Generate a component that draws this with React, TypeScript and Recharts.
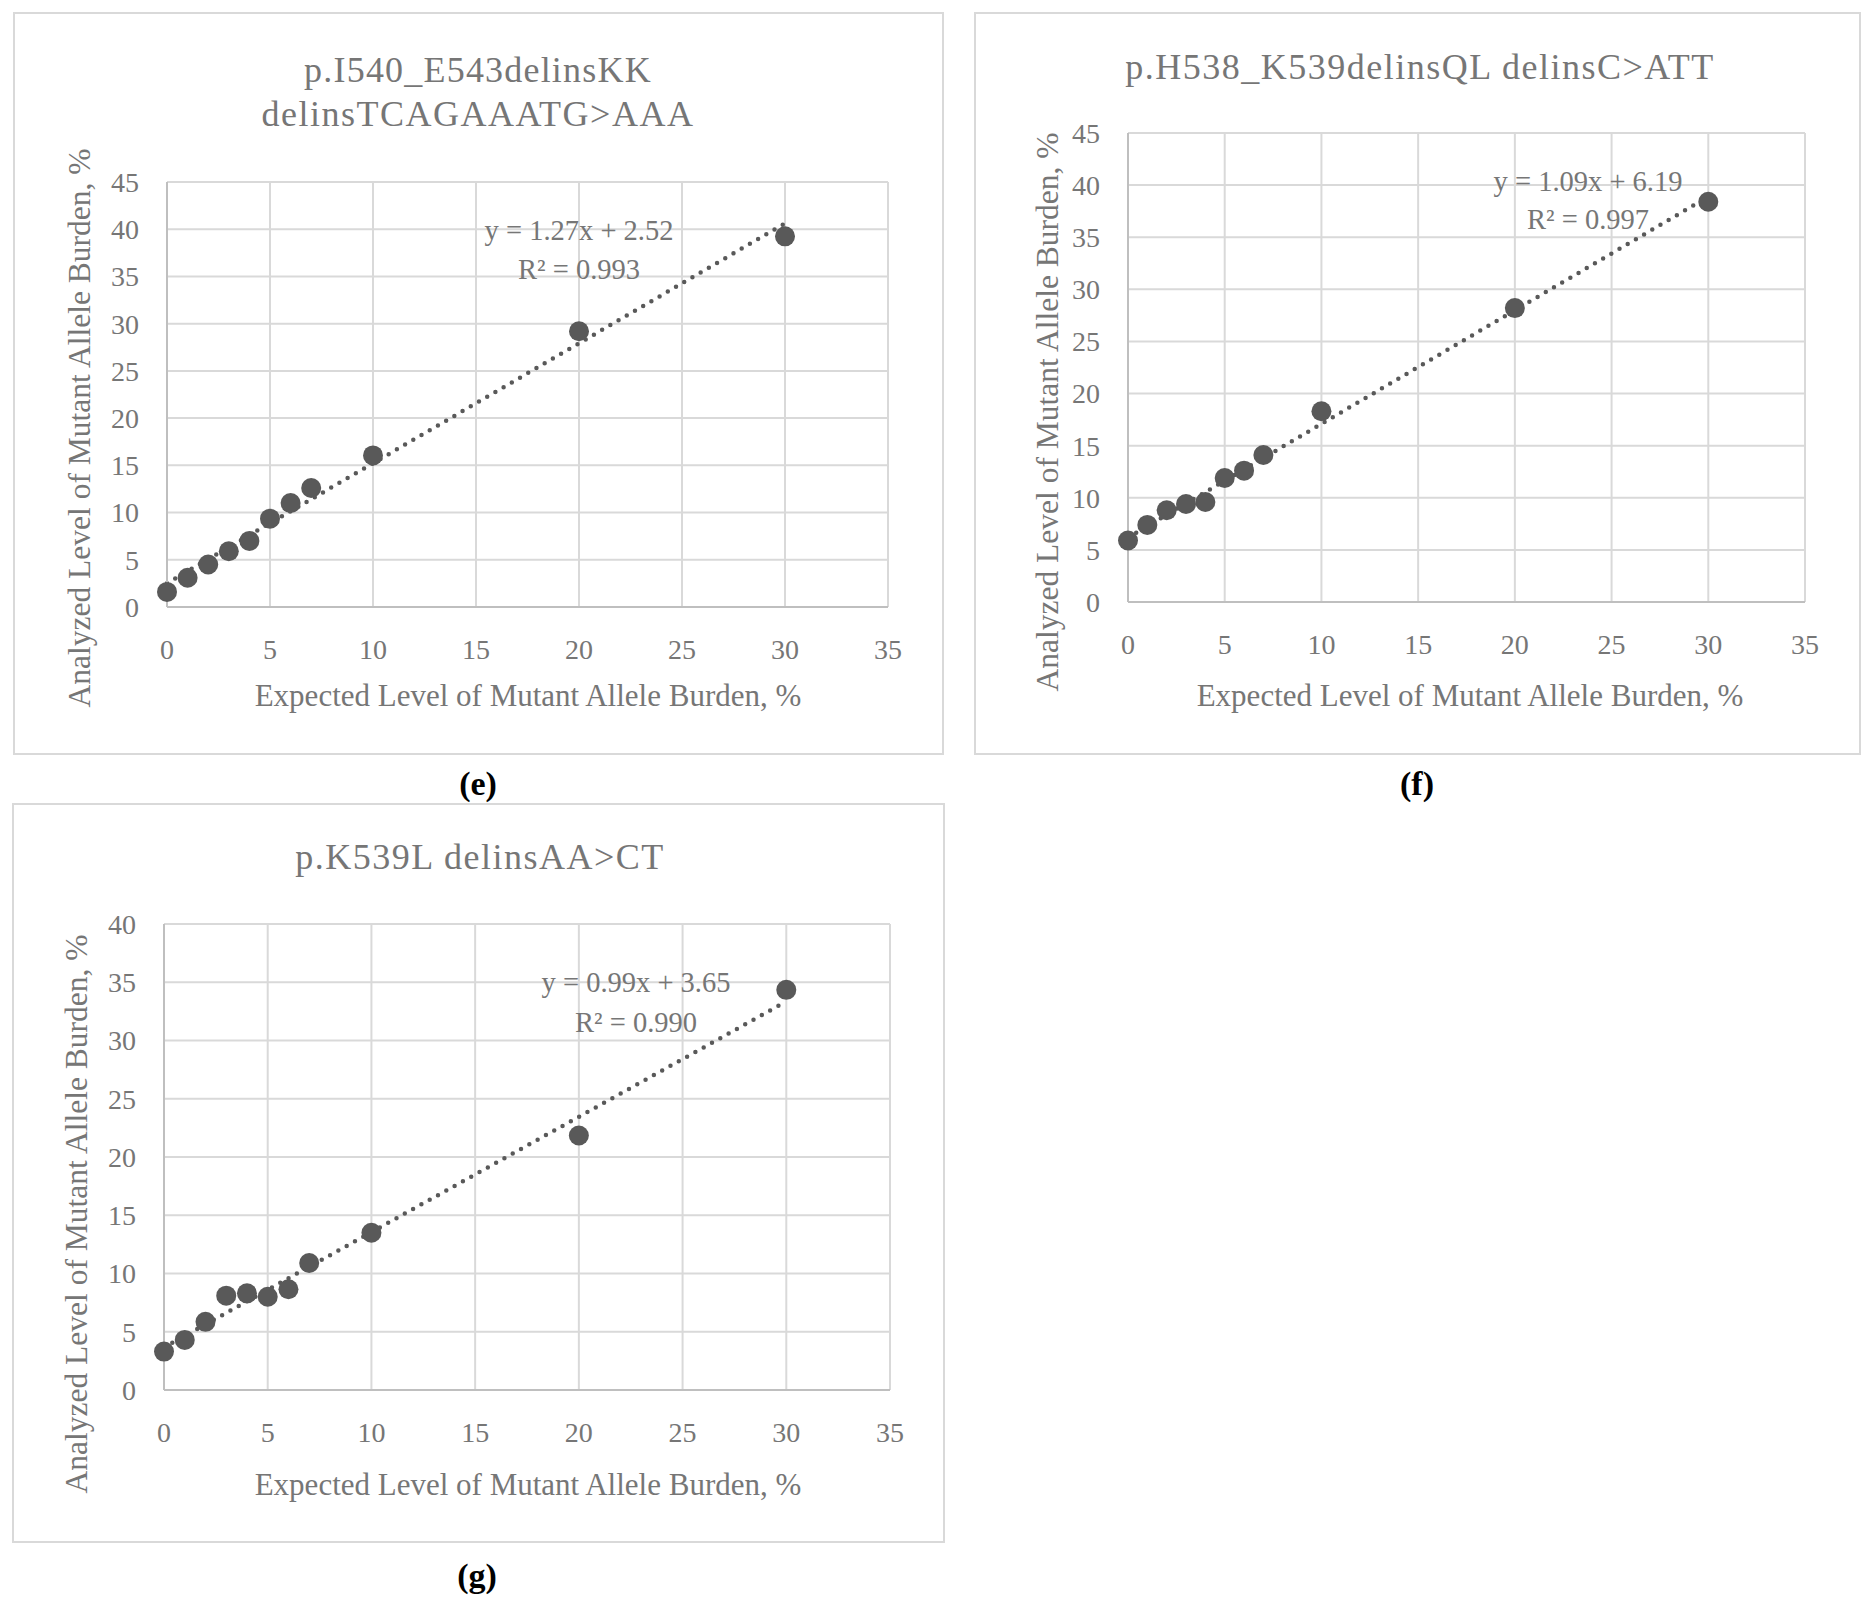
import React from "react";
import {
  ScatterChart,
  Scatter,
  XAxis,
  YAxis,
  CartesianGrid,
  ReferenceLine,
} from "recharts";

// expected mutant allele burden, % (same for every panel)
const expectedLevels = [0, 1, 2, 3, 4, 5, 6, 7, 10, 20, 30];
const xTicks = [0, 5, 10, 15, 20, 25, 30, 35];

// analyzed mutant allele burden, %
const analyzedE = [1.6, 3.1, 4.5, 5.9, 7.0, 9.35, 11.0, 12.6, 16.05, 29.2, 39.25];
const analyzedF = [5.9, 7.4, 8.8, 9.4, 9.6, 11.9, 12.6, 14.1, 18.3, 28.2, 38.4];
const analyzedG = [3.3, 4.3, 5.85, 8.1, 8.3, 8.0, 8.65, 10.9, 13.5, 21.85, 34.35];

const yTicksEF = [0, 5, 10, 15, 20, 25, 30, 35, 40, 45];
const yTicksG = [0, 5, 10, 15, 20, 25, 30, 35, 40];

// linear trendlines as printed on the charts
const trendE = { slope: 1.27, intercept: 2.52, r2: "0.993" };
const trendF = { slope: 1.09, intercept: 6.19, r2: "0.997" };
const trendG = { slope: 0.99, intercept: 3.65, r2: "0.990" };

const titleE = ["p.I540_E543delinsKK", "delinsTCAGAAATG>AAA"];
const titleF = ["p.H538_K539delinsQL delinsC>ATT"];
const titleG = ["p.K539L delinsAA>CT"];

const xTitle = "Expected Level of Mutant Allele Burden, %";
const yTitle = "Analyzed Level of Mutant Allele Burden, %";

const FONT = "'Liberation Serif', 'Times New Roman', serif";
const TEXT = "#767676";
const GRID = "#d9d9d9";
const MARK = "#595959";

const TextAt = ({
  x,
  y,
  size,
  children,
  rotate,
  color = TEXT,
  bold,
  spacing = 0,
}: {
  x: number;
  y: number;
  size: number;
  children: React.ReactNode;
  rotate?: boolean;
  color?: string;
  bold?: boolean;
  spacing?: number;
}) => (
  <div
    style={{
      position: "absolute",
      left: x,
      top: y,
      transform: `translate(-50%, -50%)${rotate ? " rotate(-90deg)" : ""}`,
      whiteSpace: "nowrap",
      fontFamily: FONT,
      fontSize: size,
      fontWeight: bold ? 700 : 400,
      letterSpacing: spacing,
      color,
      lineHeight: 1,
    }}
  >
    {children}
  </div>
);

interface PanelProps {
  left: number;
  top: number;
  width: number;
  height: number;
  margin: { top: number; right: number; bottom: number; left: number };
  yMax: number;
  yTicks: number[];
  values: number[];
  trend: { slope: number; intercept: number; r2: string };
}

const Panel: React.FC<PanelProps> = ({
  left,
  top,
  width,
  height,
  margin,
  yMax,
  yTicks,
  values,
  trend,
}) => {
  const data = expectedLevels.map((x, i) => ({ x, y: values[i] }));
  const x0 = expectedLevels[0];
  const x1 = expectedLevels[expectedLevels.length - 1];
  return (
    <div style={{ position: "absolute", left, top, width, height }}>
      <ScatterChart width={width} height={height} margin={margin}>
        <CartesianGrid stroke={GRID} strokeWidth={2} />
        <XAxis
          type="number"
          dataKey="x"
          domain={[0, 35]}
          ticks={xTicks}
          height={50}
          axisLine={{ stroke: "#bfbfbf", strokeWidth: 2 }}
          tickLine={false}
          tickSize={0}
          tickMargin={32}
          tick={{ fill: TEXT, fontSize: 28, fontFamily: FONT }}
        />
        <YAxis
          type="number"
          dataKey="y"
          domain={[0, yMax]}
          ticks={yTicks}
          width={60}
          axisLine={{ stroke: "#bfbfbf", strokeWidth: 2 }}
          tickLine={false}
          tickSize={0}
          tickMargin={28}
          tick={{ fill: TEXT, fontSize: 28, fontFamily: FONT }}
        />
        <ReferenceLine
          segment={[
            { x: x0, y: trend.slope * x0 + trend.intercept },
            { x: x1, y: trend.slope * x1 + trend.intercept },
          ]}
          stroke={MARK}
          strokeWidth={4.5}
          strokeDasharray="0 9.5"
          strokeLinecap="round"
          ifOverflow="visible"
        />
        <Scatter
          data={data}
          isAnimationActive={false}
          fill={MARK}
          shape={(p: any) => <circle cx={p.cx} cy={p.cy} r={10} fill={MARK} />}
        />
      </ScatterChart>
    </div>
  );
};

const Box = ({ l, t, r, b }: { l: number; t: number; r: number; b: number }) => (
  <div
    style={{
      position: "absolute",
      left: l,
      top: t,
      width: r - l,
      height: b - t,
      border: `2px solid ${GRID}`,
      boxSizing: "border-box",
      pointerEvents: "none",
    }}
  />
);

const Equation = ({
  x,
  y,
  y2,
  trend,
}: {
  x: number;
  y: number;
  y2: number;
  trend: { slope: number; intercept: number; r2: string };
}) => (
  <>
    <TextAt x={x} y={y} size={28.5}>
      y = {trend.slope.toFixed(2)}x + {trend.intercept.toFixed(2)}
    </TextAt>
    <TextAt x={x} y={y2} size={28.5}>
      R² = {trend.r2}
    </TextAt>
  </>
);

const App: React.FC = () => {
  return (
    <div
      style={{
        position: "absolute",
        left: 0,
        top: 0,
        width: 1871,
        height: 1603,
        background: "#ffffff",
        overflow: "hidden",
      }}
    >
      {/* (e) */}
      <Box l={13} t={12} r={944} b={755} />
      <Panel
        left={13}
        top={12}
        width={931}
        height={743}
        margin={{ top: 170, right: 56, bottom: 98, left: 94 }}
        yMax={45}
        yTicks={yTicksEF}
        values={analyzedE}
        trend={trendE}
      />
      <TextAt x={478} y={70} size={36} spacing={1.2}>{titleE[0]}</TextAt>
      <TextAt x={478} y={114} size={36} spacing={1.5}>{titleE[1]}</TextAt>
      <Equation x={579} y={231} y2={270} trend={trendE} />
      <TextAt x={528} y={695} size={31}>{xTitle}</TextAt>
      <TextAt x={80} y={428} size={31.5} rotate>{yTitle}</TextAt>
      <TextAt x={478} y={784} size={34} color="#000" bold>
        (e)
      </TextAt>

      {/* (f) */}
      <Box l={974} t={12} r={1861} b={755} />
      <Panel
        left={974}
        top={12}
        width={887}
        height={743}
        margin={{ top: 121, right: 56, bottom: 103, left: 94 }}
        yMax={45}
        yTicks={yTicksEF}
        values={analyzedF}
        trend={trendF}
      />
      <TextAt x={1420} y={67} size={36} spacing={1.5}>{titleF[0]}</TextAt>
      <Equation x={1588} y={182} y2={220} trend={trendF} />
      <TextAt x={1470} y={695} size={31}>{xTitle}</TextAt>
      <TextAt x={1048} y={412} size={31.5} rotate>{yTitle}</TextAt>
      <TextAt x={1417} y={784} size={34} color="#000" bold>
        (f)
      </TextAt>

      {/* (g) */}
      <Box l={12} t={803} r={945} b={1543} />
      <Panel
        left={12}
        top={803}
        width={933}
        height={740}
        margin={{ top: 121, right: 55, bottom: 103, left: 92 }}
        yMax={40}
        yTicks={yTicksG}
        values={analyzedG}
        trend={trendG}
      />
      <TextAt x={480} y={857} size={36} spacing={1.5}>{titleG[0]}</TextAt>
      <Equation x={636} y={983} y2={1023} trend={trendG} />
      <TextAt x={528} y={1484} size={31}>{xTitle}</TextAt>
      <TextAt x={77} y={1214} size={31.5} rotate>{yTitle}</TextAt>
      <TextAt x={477} y={1576} size={34} color="#000" bold>
        (g)
      </TextAt>
    </div>
  );
};

export default App;
